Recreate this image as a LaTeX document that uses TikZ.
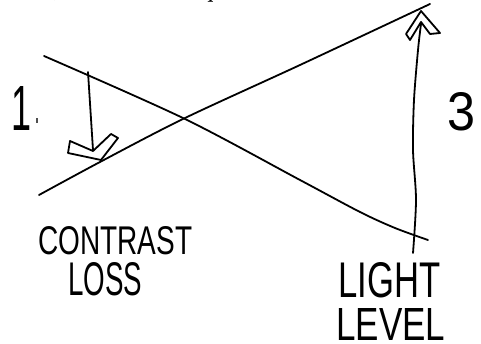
\documentclass[tikz,border=0pt]{standalone}
\usepackage{fontspec}
\setmainfont{Liberation Serif}
\newfontfamily\hand{Liberation Sans}
\begin{document}
\begin{tikzpicture}[x=1pt,y=-1pt,
  pen/.style={line width=1.8pt, line cap=round, line join=round, black},
  lbl/.style={inner sep=0pt, anchor=north west, font=\hand}]
\useasboundingbox (0,0) rectangle (481,344);
\begin{scope}
\clip (0,0) rectangle (481,344);
\node[inner sep=0pt, anchor=base west, font=\fontsize{27}{30}\selectfont] (top) at (8,-3) {ions, most than requ};
\end{scope}
% named points
\coordinate (d0) at (44,56);
\coordinate (x) at (184,118.5);
\coordinate (d1) at (428,240);
\coordinate (u0) at (39,195);
\coordinate (u1) at (430,4);
% descending curve
\draw[pen] plot[smooth, tension=0.5] coordinates {(d0) (x) (300,180) (360,212) (395,228) (d1)};
% ascending curve
\draw[pen] plot[smooth, tension=0.5] coordinates {(u0) (100,162) (x) (300,65) (u1)};
% arrow 1
\coordinate (a1s) at (88,72);
\coordinate (a1e) at (93,150);
\draw[pen] (a1s) -- (a1e);
\draw[pen] (70,141) -- (93,151) -- (111,134) -- (118,138) -- (101,160) -- (68,153) -- cycle;
% arrow 3
\coordinate (a3s) at (413,253);
\coordinate (a3e) at (421,24);
\draw[pen] plot[smooth, tension=0.5] coordinates {(a3s) (416,200) (413,150) (414,100) (418,50) (a3e)};
\draw[pen] (406,34) -- (421,11) -- (440,33) -- (430,34) -- (421,22) -- (410,40) -- cycle;
% labels
\node[lbl] (one) at (11,86) {\resizebox{20pt}{44pt}{1}};
\node[lbl] (dot) at (35,118) {\resizebox{4pt}{5pt}{.}};
\node[lbl] (three) at (447,92) {\resizebox{28pt}{38pt}{3}};
\node[lbl] (c) at (38,226) {\resizebox{154pt}{28pt}{CONTRAST}};
\node[lbl] (l) at (68,262) {\resizebox{74pt}{33pt}{LOSS}};
\node[lbl] (lg) at (338,262) {\resizebox{102pt}{35pt}{LIGHT}};
\node[lbl] (lv) at (336,308) {\resizebox{109pt}{32pt}{LEVEL}};
\end{tikzpicture}
\end{document}
